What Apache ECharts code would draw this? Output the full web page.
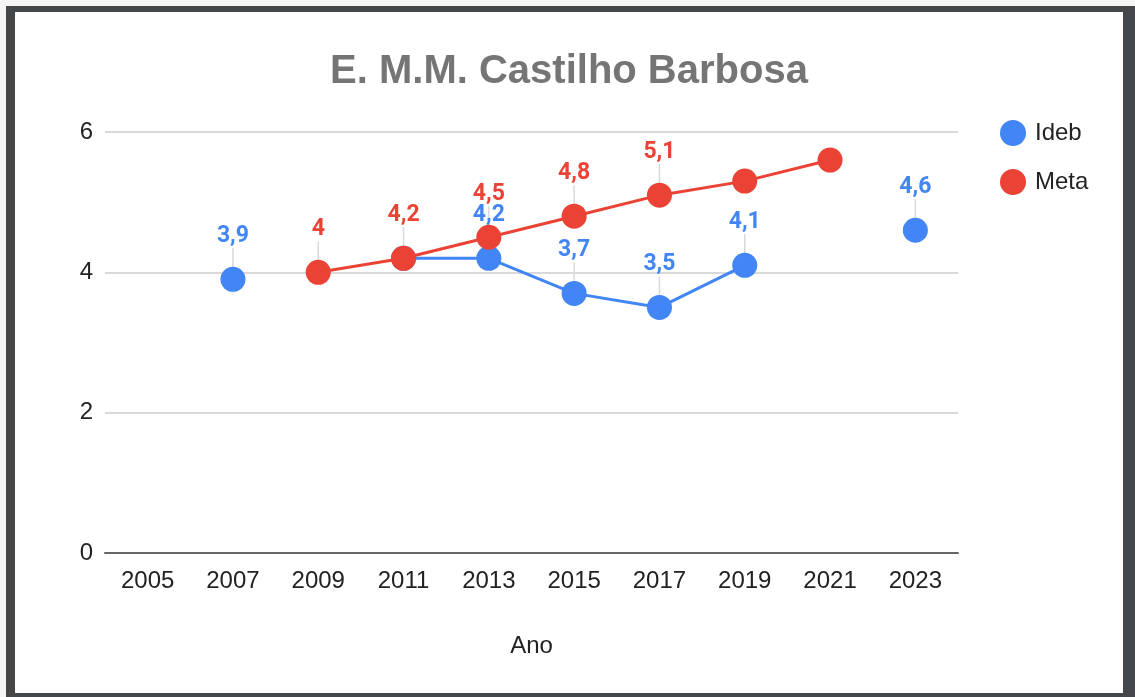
<!DOCTYPE html>
<html>
<head>
<meta charset="utf-8">
<script src="https://cdn.jsdelivr.net/npm/echarts@6/dist/echarts.min.js"></script>
<style>
html,body{margin:0;padding:0;background:#f4f4f4;}
#frame{position:absolute;left:6px;top:6px;width:1108px;height:681px;background:#fff;border-style:solid;border-color:#44474a;border-width:6px 12px 4px 9px;}
#chart{position:absolute;left:0;top:0;width:1135px;height:697px;}
</style>
</head>
<body>
<div id="frame"></div>
<div id="chart"></div>
<script>
const categories = ['2005','2007','2009','2011','2013','2015','2017','2019','2021','2023'];
const idebValues = [null, 3.9, null, 4.2, 4.2, 3.7, 3.5, 4.1, null, 4.6];
const metaValues = [null, null, 4.0, 4.2, 4.5, 4.8, 5.1, 5.3, 5.6, null];
const yTicks = [0, 2, 4, 6];

const BLUE = '#4285F4', RED = '#EA4335';
const AXFONT = 'Arial, "Liberation Sans", sans-serif';
const LBFONT = 'Roboto, Arial, sans-serif';

// labels hidden in the reference (overlapped points)
const idebHidden = {3: true};
const metaHidden = {7: true, 8: true};
const LABEL_DIST = 19;

function buildData(values, hidden) {
  return values.map((v, i) => {
    if (v == null) return null;
    return {value: v, label: {show: !hidden[i]}};
  });
}

function leaderSeries(values, hidden) {
  const d = values.map((v, i) => (v == null || hidden[i]) ? null : [i, v]).filter(x => x);
  return {
    type: 'custom',
    silent: true,
    z: 1,
    data: d,
    renderItem: function (params, api) {
      const p = api.coord([api.value(0), api.value(1)]);
      return {
        type: 'line',
        shape: {x1: p[0], y1: p[1] - 12, x2: p[0], y2: p[1] - 12 - LABEL_DIST},
        style: {stroke: '#d9d9d9', lineWidth: 1.5}
      };
    }
  };
}

const labelCfg = color => ({
  show: true, position: 'top', distance: LABEL_DIST,
  fontFamily: LBFONT, fontSize: 23, fontWeight: 'bold', color: color,
  formatter: p => String(p.value).replace('.', ',')
});

const chart = echarts.init(document.getElementById('chart'));
chart.setOption({
  animation: false,
  backgroundColor: 'transparent',
  title: {
    text: 'E. M.M. Castilho Barbosa',
    left: 564, top: 47, textAlign: 'center',
    textStyle: {fontFamily: AXFONT, fontSize: 40, fontWeight: 'bold', color: '#757575'}
  },
  legend: {
    data: ['Ideb', 'Meta'],
    orient: 'vertical',
    left: 995, top: 115,
    itemWidth: 26, itemHeight: 26, itemGap: 23,
    icon: 'circle',
    textStyle: {fontFamily: AXFONT, fontSize: 24, color: '#222', padding: [0, 0, 0, 4]}
  },
  grid: {left: 105, right: 177, top: 132, bottom: 144, containLabel: false},
  xAxis: {
    type: 'category',
    data: categories,
    boundaryGap: true,
    name: 'Ano',
    nameLocation: 'middle',
    nameGap: 81,
    nameTextStyle: {fontFamily: AXFONT, fontSize: 24, color: '#222'},
    axisLine: {show: true, lineStyle: {color: '#666', width: 2}},
    axisTick: {show: false},
    axisLabel: {fontFamily: AXFONT, fontSize: 24, color: '#222', margin: 16}
  },
  yAxis: {
    type: 'value',
    min: yTicks[0], max: yTicks[yTicks.length - 1], interval: 2,
    axisLine: {show: false},
    axisTick: {show: false},
    splitLine: {lineStyle: {color: '#cccccc', width: 1.5}},
    axisLabel: {fontFamily: AXFONT, fontSize: 24, color: '#222', margin: 12}
  },
  series: [
    leaderSeries(idebValues, idebHidden),
    leaderSeries(metaValues, metaHidden),
    {
      name: 'Ideb', type: 'line', z: 3,
      data: buildData(idebValues, idebHidden),
      connectNulls: false,
      symbol: 'circle', symbolSize: 25,
      itemStyle: {color: BLUE},
      lineStyle: {color: BLUE, width: 3},
      label: labelCfg(BLUE)
    },
    {
      name: 'Meta', type: 'line', z: 4,
      data: buildData(metaValues, metaHidden),
      connectNulls: false,
      symbol: 'circle', symbolSize: 25,
      itemStyle: {color: RED},
      lineStyle: {color: RED, width: 3},
      label: labelCfg(RED)
    }
  ]
});
</script>
</body>
</html>
